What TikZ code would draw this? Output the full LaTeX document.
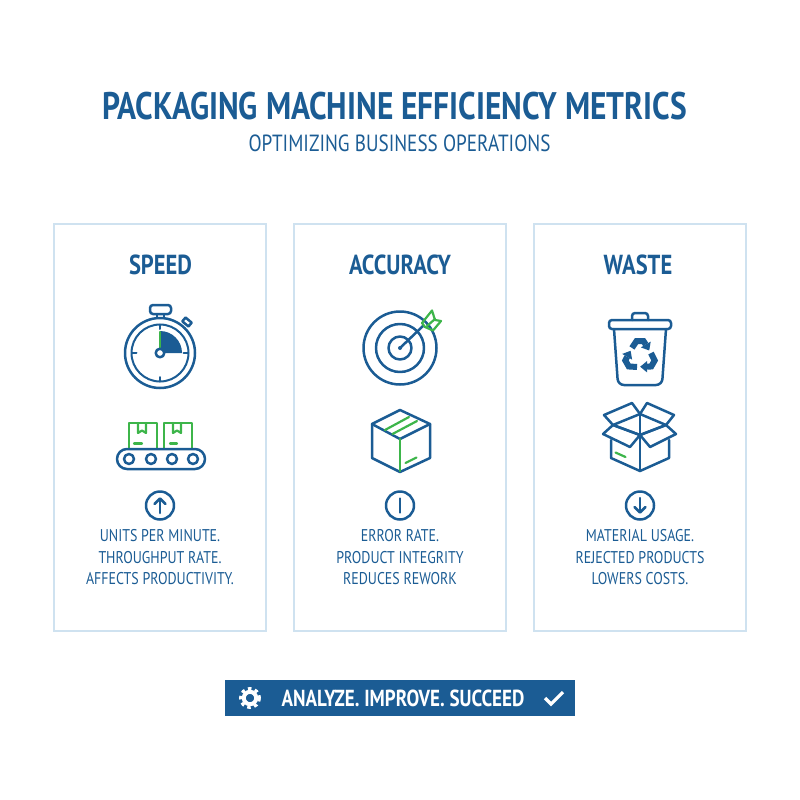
\documentclass[tikz,border=0pt]{standalone}
\usepackage{fontspec}
\setmainfont[FakeStretch=0.82]{PT Sans}
\usepackage{tikz}
\definecolor{navy}{HTML}{1B5C94}
\definecolor{leaf}{HTML}{3DB54A}
\definecolor{pale}{HTML}{CFE2F0}
\tikzset{
  panel/.style={draw=pale,line width=1.5pt},
  icon/.style={draw=navy,line width=2.5pt,line join=round,line cap=round},
  iconthin/.style={draw=navy,line width=2pt,line cap=round},
  accent/.style={draw=leaf,line width=2.2pt,line join=round,line cap=round},
  title/.style={text=navy,font=\bfseries\fontsize{38.4}{41}\selectfont},
  subtitle/.style={text=navy,font=\fontsize{23.4}{26}\selectfont},
  heading/.style={text=navy,font=\bfseries\fontsize{27.5}{30}\selectfont},
  body/.style={text=navy,font=\fontsize{17}{21.5}\selectfont,align=center},
}
\begin{document}
\begin{tikzpicture}[x=1pt,y=-1pt]
\useasboundingbox (0,0) rectangle (800,800);

\node[title] (maintitle) at (394.5,106) {PACKAGING MACHINE EFFICIENCY METRICS};
\node[subtitle] (subtitle) at (399.5,143) {OPTIMIZING BUSINESS OPERATIONS};

\draw[panel] (54,224) rectangle (266,631);
\draw[panel] (294,224) rectangle (506,631);
\draw[panel] (534,224) rectangle (746,631);

\node[heading] (speed) at (160.5,265) {SPEED};
\node[heading] (accuracy) at (400,265) {ACCURACY};
\node[heading] (waste) at (638,265) {WASTE};

% stopwatch
\fill[navy] (160,353) -- (160,331) arc (-90:0:22) -- cycle;
\draw[accent] (160,332) -- (160,348);
\draw[icon] (160,353) circle (35);
\draw[iconthin] (160,353) circle (28.5);
\draw[icon,fill=white] (160,353) circle (4.3);
\draw[icon,rounded corners=3pt] (150,305) rectangle (171,314);
\draw[icon] (157,314) -- (157,318);
\draw[icon] (164,314) -- (164,318);
\draw[icon,rotate around={-40:(187,322)}] (183,319.5) rectangle (191,324.5);
\draw[iconthin] (160,324.5) -- (160,329);
\draw[iconthin] (160,377) -- (160,381.5);
\draw[iconthin] (132,353) -- (136.5,353);
\draw[iconthin] (183.5,353) -- (188,353);

% conveyor
\draw[accent] (129,448) -- (129,423) -- (157,423) -- (157,448);
\draw[accent] (164,448) -- (164,423) -- (192,423) -- (192,448);
\draw[accent] (138,423) -- (138,433) -- (142,430.5) -- (146,433) -- (146,423);
\draw[accent] (173,423) -- (173,433) -- (177,430.5) -- (181,433) -- (181,423);
\draw[accent] (134,443.5) -- (142,443.5);
\draw[accent] (170,443.5) -- (177,443.5);
\draw[icon,rounded corners=10pt] (117,449) rectangle (205,469);
\draw[icon] (129,459) circle (5);
\draw[icon] (151,459) circle (5);
\draw[icon] (172,459) circle (5);
\draw[icon] (193,459) circle (5);

% up sign
\draw[icon] (160,505.5) circle (14);
\draw[icon] (160,513) -- (160,499);
\draw[icon] (154.5,504) -- (160,498.5) -- (165.5,504);

% target
\draw[icon] (400,348) circle (36.5);
\draw[icon] (400,348) circle (24);
\draw[icon] (400,348) circle (11.5);
\draw[icon] (400,348) -- (423,326);
\fill[navy] (400,348) circle (2);
\draw[accent] (422,323) -- (432,310.5) -- (435,320) -- (441,321) -- (433,330.5) -- (425,327) -- cycle;
\draw[accent] (427,326) -- (435,319);

% closed box
\draw[icon] (372,424) -- (400,410) -- (430,424) -- (400,439) -- cycle;
\draw[icon] (372,424) -- (372,458) -- (400,472) -- (430,458) -- (430,424);
\draw[accent] (400,439) -- (400,471);
\draw[accent] (385,430) -- (409,417);
\draw[accent] (392.5,434) -- (417,421);
\draw[accent] (405.5,463) -- (416.5,457.5);

% neutral sign
\draw[icon] (400,505.5) circle (14);
\draw[icon] (400,498.5) -- (400,512.5);

% bin
\draw[icon,rounded corners=3pt] (609,320) rectangle (671,329);
\draw[icon,rounded corners=3pt] (632,320) -- (632,313) -- (648,313) -- (648,320);
\draw[icon,rounded corners=6pt] (614,329) -- (618,385) -- (662,385) -- (666,329);

% recycle sign
\fill[navy,shift={(640,356)},scale=1.15] (9.3,-12.5) -- (8,-4.8) -- (0.7,-7.5) -- cycle;
\draw[navy,line width=6pt,shift={(640,356)},scale=1.15] (-7,-7) -- (-3,-13) -- (3,-13) -- (5,-10);
\fill[navy,shift={(640,356)},rotate=120,scale=1.15] (9.3,-12.5) -- (8,-4.8) -- (0.7,-7.5) -- cycle;
\draw[navy,line width=6pt,shift={(640,356)},rotate=120,scale=1.15] (-7,-7) -- (-3,-13) -- (3,-13) -- (5,-10);
\fill[navy,shift={(640,356)},rotate=240,scale=1.15] (9.3,-12.5) -- (8,-4.8) -- (0.7,-7.5) -- cycle;
\draw[navy,line width=6pt,shift={(640,356)},rotate=240,scale=1.15] (-7,-7) -- (-3,-13) -- (3,-13) -- (5,-10);

% open box
\draw[icon] (640,414) -- (632,403) -- (604,415) -- (613,425);
\draw[icon] (640,414) -- (647,403) -- (674,415) -- (666,425);
\draw[icon] (640,414) -- (666,425) -- (640,435) -- (613,425) -- cycle;
\draw[icon] (613,425) -- (640,435) -- (630,447) -- (603,434) -- cycle;
\draw[icon] (666,425) -- (640,435) -- (650,447) -- (676,434) -- cycle;
\draw[icon] (611,440) -- (611,458) -- (640,471) -- (669,458) -- (669,440);
\draw[icon] (640,414) -- (640,471);
\draw[accent] (615.5,452.5) -- (625.5,457);

% down sign
\draw[icon] (640,505.5) circle (14);
\draw[icon] (640,498) -- (640,512);
\draw[icon] (634.5,507) -- (640,512.5) -- (645.5,507);

\node[body] (speedtext) at (160,557.5) {UNITS PER MINUTE.\\THROUGHPUT RATE.\\AFFECTS PRODUCTIVITY.};
\node[body] (accuracytext) at (400,557.5) {ERROR RATE.\\PRODUCT INTEGRITY\\REDUCES REWORK};
\node[body] (wastetext) at (640,557.5) {MATERIAL USAGE.\\REJECTED PRODUCTS\\LOWERS COSTS.};

% banner
\fill[navy] (225,680) rectangle (575,716);
\node[text=white,font=\bfseries\fontsize{23.2}{25}\selectfont] (slogan) at (403,698) {ANALYZE. IMPROVE. SUCCEED};
\draw[white,line width=3pt,dash pattern=on 3.5pt off 3.57pt] (250,698) circle (9.5);
\draw[white,line width=4pt] (250,698) circle (6.2);
\draw[white,line width=3.2pt] (545,698) -- (551,704) -- (563,692);

\end{tikzpicture}
\end{document}
